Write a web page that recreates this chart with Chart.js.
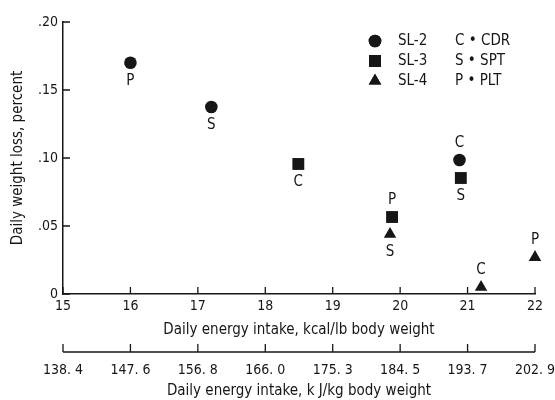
<!DOCTYPE html>
<html>
<head>
<meta charset="utf-8">
<script src="https://cdn.jsdelivr.net/npm/chart.js@4.4.0/dist/chart.umd.min.js"></script>
<style>
  html, body { margin: 0; padding: 0; background: #fff; }
</style>
</head>
<body>
<canvas id="chart" width="555" height="400"></canvas>
<script>
// Skylab crews: daily weight loss vs. daily energy intake

const flightGroups = ['SL-2', 'SL-3', 'SL-4'];
const crewKey = ['C \u2022 CDR', 'S \u2022 SPT', 'P \u2022 PLT'];

// kcal/lb body weight per day
const sl2Intake = [16.0, 17.2, 20.88];
const sl3Intake = [18.49, 19.88, 20.9];
const sl4Intake = [19.85, 21.2, 22.0];

// daily weight loss, percent
const sl2Loss = [0.170, 0.1375, 0.0985];
const sl3Loss = [0.0956, 0.0566, 0.0853];
const sl4Loss = [0.044, 0.005, 0.027];

// crewman letter for each point
const sl2Crew = ['P', 'S', 'C'];
const sl3Crew = ['C', 'P', 'S'];
const sl4Crew = ['S', 'C', 'P'];

const kcalTicks = [15, 16, 17, 18, 19, 20, 21, 22];
const kjTicks = ['138. 4', '147. 6', '156. 8', '166. 0', '175. 3', '184. 5', '193. 7', '202. 9'];
const lossTicks = [0, 0.05, 0.10, 0.15, 0.20];
const lossTickText = ['0', '.05', '.10', '.15', '.20'];

const FONT = "'Liberation Sans Narrow', 'DejaVu Sans Condensed', sans-serif";
const INK = '#161616';

function series(label, xs, ys, crew, style, radius) {
  return {
    label,
    data: xs.map((x, i) => ({ x, y: ys[i], crew: crew[i] })),
    pointStyle: style,
    pointRadius: radius,
    pointHoverRadius: radius,
    backgroundColor: INK,
    borderColor: INK,
    borderWidth: 0,
    showLine: false,
    clip: false,
  };
}

const datasets = [
  series(flightGroups[0], sl2Intake, sl2Loss, sl2Crew, 'circle', 6.3),
  series(flightGroups[1], sl3Intake, sl3Loss, sl3Crew, 'rect', 8.4),
  series(flightGroups[2], sl4Intake, sl4Loss, sl4Crew, 'triangle', 7.2),
];

// short tick marks pointing into the plot, plus the kJ/kg base line
const inwardTicks = {
  id: 'inwardTicks',
  afterDraw(chart) {
    const { ctx, scales: { x, x2, y } } = chart;
    ctx.save();
    ctx.strokeStyle = INK;
    ctx.lineWidth = 1.5;
    ctx.beginPath();
    ctx.moveTo(x.left, x2.top);
    ctx.lineTo(x.right, x2.top);
    ctx.stroke();
    ctx.lineWidth = 1.3;
    ctx.beginPath();
    kcalTicks.forEach(v => {
      const px = x.getPixelForValue(v);
      ctx.moveTo(px, x.top); ctx.lineTo(px, x.top - 7);
      ctx.moveTo(px, x2.top); ctx.lineTo(px, x2.top - 8);
    });
    lossTicks.forEach(v => {
      const py = y.getPixelForValue(v);
      ctx.moveTo(y.right, py); ctx.lineTo(y.right + 7, py);
    });
    ctx.stroke();
    ctx.restore();
  },
};

// crew letter above or below each symbol
const crewLetters = {
  id: 'crewLetters',
  afterDatasetsDraw(chart) {
    const { ctx, scales: { x, y } } = chart;
    const all = chart.data.datasets.flatMap(d => d.data);
    ctx.save();
    ctx.fillStyle = INK;
    ctx.font = `15px ${FONT}`;
    ctx.textAlign = 'center';
    ctx.textBaseline = 'middle';
    all.forEach(p => {
      const crowded = all.some(q => q !== p && Math.abs(q.x - p.x) < 0.15 && q.y < p.y);
      const above = crowded || p.y < 0.035;
      const px = x.getPixelForValue(p.x);
      const py = y.getPixelForValue(p.y);
      ctx.fillText(p.crew, px, above ? py - 17 : py + 18);
    });
    ctx.restore();
  },
};

// symbol key in the upper right
const symbolKey = {
  id: 'symbolKey',
  afterDraw(chart) {
    const { ctx } = chart;
    ctx.save();
    ctx.fillStyle = INK;
    ctx.font = `15px ${FONT}`;
    ctx.textBaseline = 'middle';
    chart.data.datasets.forEach((d, i) => {
      const rowY = 41 + i * 20;
      Chart.helpers.drawPoint(ctx, {
        pointStyle: d.pointStyle,
        radius: d.pointRadius,
        borderWidth: 0,
      }, 375, rowY);
      ctx.fill();
      ctx.fillText(d.label, 398, rowY);
      ctx.fillText(crewKey[i], 455, rowY);
    });
    ctx.restore();
  },
};

const axisLine = { display: true, color: INK, width: 1.5 };
const noGrid = { display: false, drawTicks: false };

// fixed axis band sizes; no extra side padding for end labels
const fitBand = h => s => { s.height = h; s.paddingLeft = 0; s.paddingRight = 0; };

new Chart(document.getElementById('chart'), {
  type: 'scatter',
  data: { datasets },
  options: {
    responsive: false,
    animation: false,
    layout: { padding: { top: 22, right: 20, bottom: 0, left: 0 } },
    plugins: { legend: { display: false }, tooltip: { enabled: false } },
    scales: {
      x: {
        type: 'linear',
        position: 'bottom',
        min: 15,
        max: 22,
        afterBuildTicks: s => { s.ticks = kcalTicks.map(value => ({ value })); },
        afterFit: fitBand(58),
        ticks: { color: INK, padding: 4, font: { family: FONT, size: 14 }, maxRotation: 0 },
        grid: noGrid,
        border: axisLine,
        title: {
          display: true,
          text: 'Daily energy intake, kcal/lb body weight',
          color: INK,
          font: { family: FONT, size: 15 },
          padding: { top: 0, bottom: 13 },
        },
      },
      x2: {
        type: 'linear',
        axis: 'x',
        position: 'bottom',
        min: 15,
        max: 22,
        afterBuildTicks: s => { s.ticks = kcalTicks.map(value => ({ value })); },
        afterFit: fitBand(48),
        ticks: {
          color: INK,
          padding: 10,
          font: { family: FONT, size: 14 },
          maxRotation: 0,
          callback: (v, i) => kjTicks[i],
        },
        grid: noGrid,
        border: { display: false },
        title: {
          display: true,
          text: 'Daily energy intake, k J/kg body weight',
          color: INK,
          font: { family: FONT, size: 15 },
          padding: { top: 0, bottom: 0 },
        },
      },
      y: {
        min: 0,
        max: 0.2,
        afterBuildTicks: s => { s.ticks = lossTicks.map(value => ({ value })); },
        afterFit: s => { s.width = 63; },
        ticks: {
          color: INK,
          padding: 5,
          font: { family: FONT, size: 14 },
          callback: (v, i) => lossTickText[i],
        },
        grid: noGrid,
        border: axisLine,
        title: {
          display: true,
          text: 'Daily weight loss, percent',
          color: INK,
          font: { family: FONT, size: 15 },
          padding: { top: 9, bottom: 0 },
        },
      },
    },
  },
  plugins: [inwardTicks, crewLetters, symbolKey],
});
</script>
</body>
</html>
